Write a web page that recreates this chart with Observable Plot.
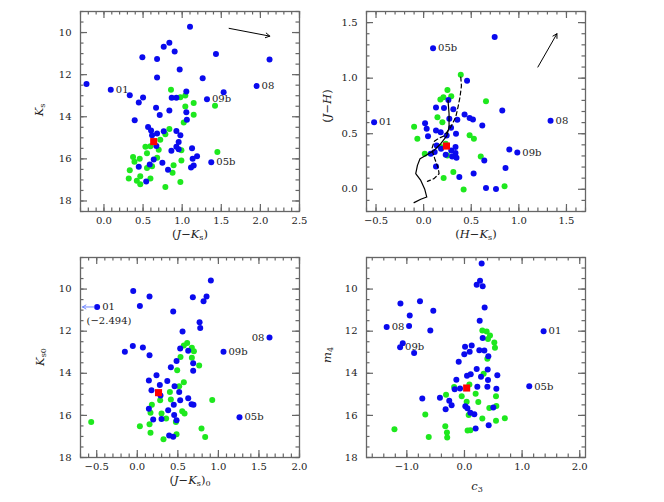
<!DOCTYPE html>
<html>
<head>
<meta charset="utf-8">
<script src="https://cdn.jsdelivr.net/npm/d3@7"></script>
<script src="https://cdn.jsdelivr.net/npm/@observablehq/plot@0.6"></script>
<style>
  body { margin: 0; background: #fff; }
  #fig { position: relative; width: 664px; height: 502px; font-family: "DejaVu Serif", serif; color: #222; }
  .pn { position: absolute; }
  .lab { position: absolute; font-size: 11.5px; white-space: nowrap; transform: translate(-50%, -50%); }
  .lab.rot { transform: translate(-50%, -50%) rotate(-90deg); }
  .lab sub { font-size: 70%; vertical-align: -0.3em; line-height: 0; }
</style>
</head>
<body>
<div id="fig"></div>
<script>
// ---------- data ----------
// Panel 1: Ks vs (J-Ks)
const p1Blue = [[1.10,9.73],[0.836,10.49],[0.764,10.68],[0.904,10.90],[1.432,11.02],[0.491,11.17],[0.679,11.26],[2.117,11.28],[0.968,11.75],[0.679,12.13],[1.262,12.17],[-0.223,12.44],[1.951,12.54],[0.087,12.72],[1.053,12.80],[1.53,12.83],[0.33,12.98],[0.5,13.09],[0.866,13.10],[0.926,13.10],[1.317,13.17],[0.445,13.32],[0.666,13.57],[0.836,13.70],[1.053,13.78],[0.713,13.92],[1.06,14.14],[0.393,14.17],[0.564,14.49],[0.602,14.65],[0.764,14.69],[0.679,14.80],[0.926,14.68],[0.977,14.88],[0.615,14.88],[0.955,15.20],[0.67,15.39],[0.926,15.43],[0.955,15.54],[0.862,15.61],[1.126,15.50],[1.19,15.87],[1.134,16.0],[1.372,16.16],[0.585,16.27],[0.445,16.38],[0.636,16.03],[0.747,16.19],[1.147,16.31],[1.113,16.41],[0.819,16.52],[0.54,17.07]];
const p1Green = [[0.857,12.72],[0.977,13.07],[1.04,12.99],[1.04,13.51],[1.147,13.35],[1.147,13.91],[1.42,13.48],[1.02,14.27],[0.836,14.58],[0.785,14.83],[0.72,15.09],[0.53,15.43],[0.594,15.4],[0.55,15.73],[0.7,15.57],[0.99,15.59],[1.45,15.67],[0.372,15.91],[0.457,16.0],[0.39,16.14],[0.68,15.95],[0.99,16.08],[0.55,16.43],[0.615,16.35],[0.89,16.30],[0.33,16.54],[0.877,16.66],[0.464,16.82],[0.594,16.93],[0.317,16.93],[0.42,17.04],[0.464,17.21],[0.977,17.10],[0.785,17.34]];
const p1Red = [[0.636,15.18]];
const p1Labels = [["01",0.087,12.72],["08",1.951,12.54],["09b",1.317,13.17],["05b",1.372,16.16]];
const p1Arrow = [[1.60,9.80,2.12,10.17]];

// Panel 2: (J-H) vs (H-Ks)
const p2Blue = [[0.746,1.371],[0.099,1.27],[0.456,0.977],[-0.52,0.603],[1.333,0.616],[0.826,0.708],[0.26,0.804],[0.13,0.735],[0.214,0.732],[0.312,0.72],[0.43,0.672],[0.483,0.642],[0.518,0.628],[0.616,0.574],[0.354,0.625],[0.27,0.634],[0.015,0.595],[0.032,0.544],[0.046,0.478],[0.13,0.529],[0.179,0.514],[0.242,0.484],[0.34,0.499],[0.288,0.553],[0.9,0.359],[0.984,0.332],[0.137,0.395],[0.183,0.365],[0.074,0.32],[0.116,0.335],[0.29,0.35],[0.335,0.326],[0.345,0.284],[0.3,0.296],[0.637,0.26],[0.13,0.206],[0.86,0.191],[0.525,0.141],[0.375,0.111],[0.655,0.012],[0.76,0.003],[0.232,0.311],[0.335,0.38]];
const p2Green = [[0.39,1.03],[0.25,0.893],[0.208,0.828],[0.176,0.807],[0.29,0.837],[0.655,0.792],[0.145,0.648],[0.197,0.604],[-0.1,0.562],[-0.066,0.454],[0.483,0.487],[0.528,0.454],[0.012,0.32],[0.232,0.41],[0.18,0.38],[0.25,0.305],[0.6,0.296],[0.312,0.156],[0.21,0.102],[0.42,-0.003],[0.85,0.027]];
const p2Red = [[0.24,0.389]];
const p2Labels = [["05b",0.099,1.27],["01",-0.52,0.603],["08",1.333,0.616],["09b",0.984,0.332]];
const p2Arrow = [[1.20,1.10,1.40,1.40]];
const p2Solid = [[0.256,0.80],[0.267,0.68],[0.267,0.56],[0.243,0.48],[0.18,0.41],[0.109,0.35],[0.022,0.305],[-0.038,0.275],[-0.065,0.215],[-0.083,0.14],[-0.03,0.08],[0.012,0.0],[0.033,-0.07],[-0.03,-0.09],[-0.1,-0.12]];
const p2Dashed = [[0.39,1.01],[0.397,0.93],[0.382,0.83],[0.361,0.74],[0.337,0.65],[0.285,0.56],[0.214,0.48],[0.162,0.46],[0.11,0.43],[0.085,0.36],[0.117,0.275],[0.155,0.185],[0.162,0.14],[0.109,0.096],[0.04,0.071]];

// Panel 3: Ks0 vs (J-Ks)0
const p3Blue = [[0.907,9.59],[-0.05,10.09],[0.151,10.35],[0.854,10.35],[0.685,10.39],[0.817,10.58],[-0.495,10.85],[0.032,10.80],[0.443,11.07],[0.768,11.58],[0.776,11.85],[0.558,12.02],[1.63,12.30],[-0.055,12.70],[0.069,12.78],[-0.153,12.98],[1.063,12.98],[0.151,13.14],[0.529,12.82],[0.628,12.93],[0.689,13.52],[0.484,13.42],[0.414,13.71],[0.689,13.88],[0.237,14.09],[0.143,14.34],[0.37,14.37],[0.46,14.62],[0.278,14.56],[0.175,14.81],[0.517,14.89],[0.286,15.05],[0.628,15.19],[0.529,15.28],[0.669,15.47],[0.693,15.5],[0.45,15.5],[0.143,15.68],[0.381,15.76],[0.455,15.98],[0.484,16.23],[0.196,16.2],[0.299,16.17],[1.26,16.09],[0.393,16.96],[0.443,17.02]];
const p3Green = [[0.615,12.56],[0.574,12.68],[0.673,12.79],[0.698,12.95],[0.533,13.23],[0.673,13.26],[0.763,13.63],[0.492,13.86],[0.574,14.42],[0.517,14.62],[0.402,14.89],[0.924,15.27],[0.282,15.28],[0.414,15.25],[0.18,15.49],[0.163,15.88],[0.299,15.91],[0.554,15.8],[0.583,15.91],[0.356,16.15],[-0.568,16.31],[0.032,16.51],[0.151,16.42],[0.163,16.83],[0.792,16.62],[0.484,16.89],[0.323,17.13],[0.837,17.03],[0.476,16.31]];
const p3Red = [[0.262,14.92]];
const p3LabelsR = [["01",-0.495,10.85],["09b",1.063,12.98],["05b",1.26,16.09]];
const p3LabelsL = [["08",1.63,12.30]];
const p3Note = [["(\u22122.494)",-0.625,11.52]];
const p3Arrow = [[-0.53,10.85,-0.675,10.85]];

// Panel 4: m4 vs c3
const p4Blue = [[0.298,8.79],[0.27,9.61],[0.212,9.79],[0.316,9.86],[-0.772,10.58],[-1.111,10.68],[-0.541,11.03],[0.35,10.87],[-0.95,11.25],[0.264,11.5],[-1.35,11.8],[-0.961,11.75],[-0.593,11.97],[1.373,12.0],[0.316,12.32],[-1.071,12.57],[-1.117,12.76],[-0.874,13.04],[0.01,12.74],[0.125,12.68],[0.09,12.98],[0.258,12.9],[0.345,12.92],[-0.003,13.1],[0.414,13.19],[-0.1,13.45],[0.212,13.8],[0.403,13.82],[0.044,14.12],[0.108,14.05],[0.287,14.16],[0.57,14.09],[0.408,14.32],[-0.141,14.31],[-0.17,14.76],[-0.077,14.72],[0.223,14.64],[0.397,14.64],[0.553,14.73],[1.124,14.62],[-0.732,15.2],[-0.426,15.16],[-0.264,15.3],[-0.223,15.52],[-0.327,15.71],[0.015,15.57],[0.05,15.66],[0.102,15.87],[0.171,15.95],[0.5,15.63],[0.42,16.47],[0.194,16.62]];
const p4Green = [[0.31,11.97],[0.385,12.02],[0.443,12.21],[0.408,12.37],[0.518,12.54],[0.529,12.79],[0.397,13.31],[0.333,14.02],[0.085,14.53],[-0.18,14.65],[-0.32,15.02],[-0.048,15.09],[0.194,14.97],[0.547,15.09],[0.038,15.35],[0.24,15.36],[0.553,15.55],[0.431,15.65],[0.073,15.98],[-0.68,15.96],[0.7,16.14],[0.547,16.25],[0.31,16.15],[-0.333,16.51],[-0.304,16.81],[0.054,16.72],[-1.215,16.66],[-0.62,17.03],[-0.3,17.05],[0.102,16.71]];
const p4Red = [[0.038,14.7]];
const p4Labels = [["08",-1.35,11.8],["09b",-1.117,12.76],["01",1.373,12.0],["05b",1.124,14.62]];

// axis ticks
const magTicks = [10, 12, 14, 16, 18];
const p1XTicks = [0, 0.5, 1, 1.5, 2, 2.5];
const p2XTicks = [-0.5, 0, 0.5, 1, 1.5];
const p2YTicks = [0, 0.5, 1, 1.5];
const p3XTicks = [-0.5, 0, 0.5, 1, 1.5, 2];
const p4XTicks = [-1, 0, 1, 2];

// ---------- helpers ----------
const BLUE = "#0a0aee", GREEN = "#1ee81e", RED = "#ff0000", FRAME = "#666";
const W = 219, H = 200; // inner frame size in px
const fmt1 = d => d.toFixed(1).replace("-", "\u2212");
const fmt0 = d => String(d);
const minor = (a, b, s) => d3.range(Math.round(a / s), Math.round(b / s) + 1).map(i => +(i * s).toFixed(3));

function axes(xMaj, xMin, yMaj, yMin, xf, yf) {
  const st = {stroke: FRAME, strokeWidth: 1.2};
  const id = d => d;
  return [
    // inward tick marks on all four sides
    Plot.ruleX(xMaj, {...st, x: id, insetTop: H - 7}),
    Plot.ruleX(xMaj, {...st, x: id, insetBottom: H - 7}),
    Plot.ruleX(xMin, {...st, x: id, insetTop: H - 3.5}),
    Plot.ruleX(xMin, {...st, x: id, insetBottom: H - 3.5}),
    Plot.ruleY(yMaj, {...st, y: id, insetRight: W - 7}),
    Plot.ruleY(yMaj, {...st, y: id, insetLeft: W - 7}),
    Plot.ruleY(yMin, {...st, y: id, insetRight: W - 3.5}),
    Plot.ruleY(yMin, {...st, y: id, insetLeft: W - 3.5}),
    Plot.axisX(xMaj, {anchor: "bottom", tickSize: 0, tickPadding: 5, tickFormat: xf, label: null, fill: "#222", fontSize: 10}),
    Plot.axisY(yMaj, {anchor: "left", tickSize: 0, tickPadding: 9, tickFormat: yf, label: null, fill: "#222", fontSize: 10}),
    Plot.frame({stroke: FRAME, strokeWidth: 1.3})
  ];
}
const px = d => d[0], py = d => d[1];
function pts(blue, green, red) {
  return [
    Plot.dot(green, {x: px, y: py, r: 3, fill: GREEN}),
    Plot.dot(blue, {x: px, y: py, r: 3, fill: BLUE}),
    Plot.dot(red, {x: px, y: py, r: 4, symbol: "square", fill: RED})
  ];
}
function labs(arr, side) {
  return Plot.text(arr, {x: d => d[1], y: d => d[2], text: d => d[0], dx: side === "end" ? -5 : 5,
    textAnchor: side || "start", fontSize: 10, fill: "#222"});
}
function arrows(arr, color) {
  return Plot.arrow(arr, {x1: d => d[0], y1: d => d[1], x2: d => d[2], y2: d => d[3],
    stroke: color || "#000", strokeWidth: 1, headLength: 7});
}
function mount(chart, left, top) {
  chart.classList.add("pn");
  chart.style.left = left + "px";
  chart.style.top = top + "px";
  document.getElementById("fig").appendChild(chart);
}
function label(html, cx, cy, rot) {
  const d = document.createElement("div");
  d.className = "lab" + (rot ? " rot" : "");
  d.style.left = cx + "px";
  d.style.top = cy + "px";
  d.innerHTML = html;
  document.getElementById("fig").appendChild(d);
}
const common = {style: {fontFamily: "DejaVu Serif, serif", fontSize: "10px", color: "#222", background: "transparent", overflow: "visible"}};

// ---------- panel 1 ----------
mount(Plot.plot({
  ...common, width: 332, height: 240, marginLeft: 80, marginRight: 33, marginTop: 11, marginBottom: 29,
  x: {domain: [-0.3, 2.5]}, y: {domain: [9, 18.5], reverse: true},
  marks: [
    ...axes(p1XTicks, minor(-0.3, 2.5, 0.1), magTicks, minor(9, 18.5, 0.5), fmt1, fmt0),
    ...pts(p1Blue, p1Green, p1Red),
    labs(p1Labels),
    arrows(p1Arrow)
  ]
}), 0, 0);

// ---------- panel 2 ----------
mount(Plot.plot({
  ...common, width: 332, height: 240, marginLeft: 34, marginRight: 79, marginTop: 11, marginBottom: 29,
  x: {domain: [-0.6, 1.7]}, y: {domain: [-0.2, 1.6]},
  marks: [
    ...axes(p2XTicks, minor(-0.6, 1.7, 0.1), p2YTicks, minor(-0.2, 1.6, 0.1), fmt1, fmt1),
    ...pts(p2Blue, p2Green, p2Red),
    Plot.line(p2Solid, {x: px, y: py, stroke: "#000", strokeWidth: 1.2}),
    Plot.line(p2Dashed, {x: px, y: py, stroke: "#000", strokeWidth: 1.2, strokeDasharray: "4,3"}),
    labs(p2Labels),
    arrows(p2Arrow)
  ]
}), 332, 0);

// ---------- panel 3 ----------
mount(Plot.plot({
  ...common, width: 332, height: 256, marginLeft: 80, marginRight: 33, marginTop: 11, marginBottom: 45,
  x: {domain: [-0.7, 2.0]}, y: {domain: [8.5, 18], reverse: true},
  marks: [
    ...axes(p3XTicks, minor(-0.7, 2.0, 0.1), magTicks, minor(8.5, 18, 0.5), fmt1, fmt0),
    ...pts(p3Blue, p3Green, p3Red),
    labs(p3LabelsR),
    labs(p3LabelsL, "end"),
    Plot.text(p3Note, {x: d => d[1], y: d => d[2], text: d => d[0], textAnchor: "start", fontSize: 10, fill: "#222"}),
    arrows(p3Arrow, "#6f86ff")
  ]
}), 0, 246);

// ---------- panel 4 ----------
mount(Plot.plot({
  ...common, width: 332, height: 256, marginLeft: 34, marginRight: 79, marginTop: 11, marginBottom: 45,
  x: {domain: [-1.7, 2.1]}, y: {domain: [8.5, 18], reverse: true},
  marks: [
    ...axes(p4XTicks, minor(-1.6, 2.0, 0.2), magTicks, minor(8.5, 18, 0.5), fmt1, fmt0),
    ...pts(p4Blue, p4Green, p4Red),
    labs(p4Labels)
  ]
}), 332, 246);

// ---------- axis titles ----------
label("(<i>J</i>\u2212<i>K</i><sub>s</sub>)", 190, 234);
label("<i>K</i><sub>s</sub>", 39, 110, true);
label("(<i>H</i>\u2212<i>K</i><sub>s</sub>)", 476, 234);
label("(<i>J</i>\u2212<i>H</i>)", 327, 106, true);
label("(<i>J</i>\u2212<i>K</i><sub>s</sub>)<sub>0</sub>", 190, 480);
label("<i>K</i><sub>s0</sub>", 40, 357, true);
label("<i>c</i><sub>3</sub>", 477, 486);
label("<i>m</i><sub>4</sub>", 327, 355, true);
</script>
</body>
</html>
